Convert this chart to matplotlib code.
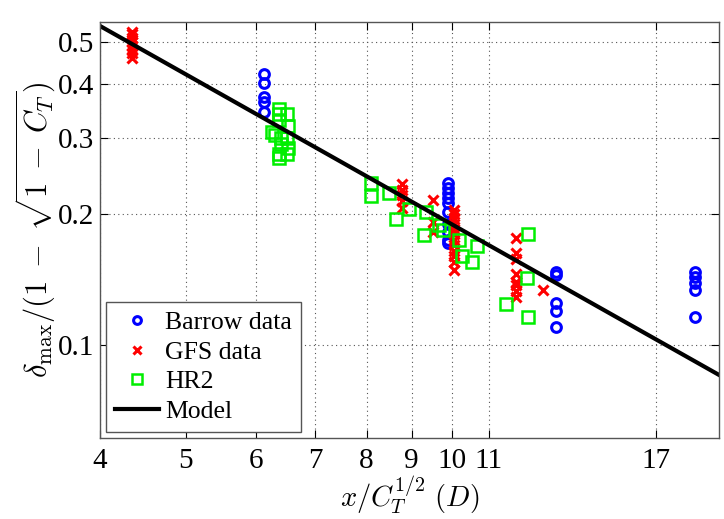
import matplotlib
matplotlib.use('Agg')
import matplotlib.pyplot as plt
from matplotlib.ticker import FixedLocator, FixedFormatter, NullLocator

# --- data (log-log axes) ---
barrow_x = [6.13] * 5 + [9.88] * 10 + [13.1] * 5 + [18.8] * 5
barrow_y = [0.422, 0.402, 0.373, 0.363, 0.345,
            0.236, 0.230, 0.224, 0.218, 0.212, 0.203, 0.190, 0.182, 0.175, 0.172,
            0.147, 0.145, 0.125, 0.120, 0.110,
            0.147, 0.1435, 0.139, 0.134, 0.116]

gfs_x = ([4.35] * 8 + [8.78] * 5 + [9.5] * 3 + [10.05] * 12
         + [11.8] * 8 + [12.67])
gfs_y = [0.527, 0.52, 0.51, 0.50, 0.49, 0.48, 0.47, 0.459,
         0.235, 0.228, 0.222, 0.215, 0.207,
         0.216, 0.192, 0.182,
         0.205, 0.200, 0.195, 0.190, 0.185, 0.180, 0.175, 0.170, 0.165, 0.160, 0.155, 0.149,
         0.1765, 0.163, 0.158, 0.146, 0.140, 0.1375, 0.133, 0.129,
         0.134]

hr2_x = [6.25, 6.30, 6.38, 6.38, 6.38, 6.40, 6.40, 6.38, 6.38,
         6.50, 6.52, 6.50, 6.52, 6.50,
         8.10, 8.09, 8.49, 8.63, 8.94, 9.28, 9.35, 9.67, 9.77,
         10.18, 10.26, 10.53, 10.67, 11.5, 12.18, 12.15, 12.18]
hr2_y = [0.310, 0.305, 0.350, 0.340, 0.330, 0.300, 0.290, 0.275, 0.270,
         0.340, 0.320, 0.300, 0.285, 0.275,
         0.236, 0.221, 0.224, 0.195, 0.206, 0.179, 0.203, 0.189, 0.184,
         0.175, 0.160, 0.155, 0.169, 0.124, 0.180, 0.143, 0.116]

model_x = [4, 20]
model_y = [0.544, 0.0853]

x_ticks = [4, 5, 6, 7, 8, 9, 10, 11, 17]
y_ticks = [0.1, 0.2, 0.3, 0.4, 0.5]
y_tick_labels = ['0.1', '0.2', '0.3', '0.4', '0.5']

plt.rcParams['font.family'] = ['Liberation Serif', 'DejaVu Serif']
plt.rcParams['mathtext.fontset'] = 'cm'

fig = plt.figure(figsize=(7.24, 5.19), dpi=100)
ax = fig.add_axes([0.138, 0.156, 0.855, 0.802])

ax.plot(barrow_x, barrow_y, 'o', ls='none', mfc='none', mec='#0000ff',
        ms=7, mew=2.2, label='Barrow data')
ax.plot(gfs_x, gfs_y, 'x', ls='none', color='#ff0000',
        ms=7, mew=2.2, label='GFS data')
ax.plot(hr2_x, hr2_y, 's', ls='none', mfc='none', mec='#00ee00',
        ms=9, mew=1.8, label='HR2')
ax.plot(model_x, model_y, '-', color='black', lw=3, label='Model')

ax.set_xscale('log')
ax.set_yscale('log')
ax.set_xlim(4, 20)
ax.set_ylim(0.061, 0.556)

ax.xaxis.set_major_locator(FixedLocator(x_ticks))
ax.xaxis.set_major_formatter(FixedFormatter([str(t) for t in x_ticks]))
ax.xaxis.set_minor_locator(NullLocator())
ax.yaxis.set_major_locator(FixedLocator(y_ticks))
ax.yaxis.set_major_formatter(FixedFormatter(y_tick_labels))
ax.yaxis.set_minor_locator(NullLocator())

ax.tick_params(direction='in', length=6, width=0.8, labelsize=21,
               top=True, right=True, pad=4)
ax.tick_params(axis='x', pad=7)
ax.grid(True, which='major', linestyle=(0, (1, 3)), color='#555555', lw=0.8)
for s in ax.spines.values():
    s.set_color('#555555')
    s.set_linewidth(1.0)

ax.set_xlabel(r'$x/C_T^{1/2}\ (D)$', fontsize=20.5, labelpad=0)
ax.set_ylabel(r'$\delta_{\max}/(1\;-\;\sqrt{1\;-\;C_T})$', fontsize=22, labelpad=0)

leg = ax.legend(loc='lower left', fontsize=18.5, fancybox=False, framealpha=1,
                edgecolor='#555555', handlelength=1.7, borderpad=0.35,
                labelspacing=0.25, handletextpad=0.25, borderaxespad=0.25,
                markerscale=0.8)
leg.get_frame().set_linewidth(1.0)

fig.savefig('out.png', dpi=100)
